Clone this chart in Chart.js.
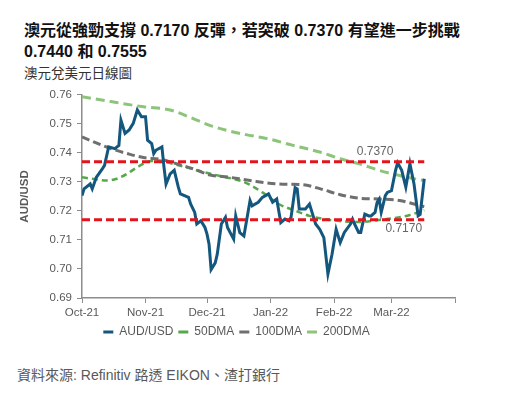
<!DOCTYPE html>
<html lang="zh-Hant-TW">
<head>
<meta charset="utf-8">
<script src="https://cdn.jsdelivr.net/npm/chart.js@4.4.1/dist/chart.umd.min.js"></script>
<style>
  body { margin: 0; width: 517px; height: 398px; background: #fff; position: relative; overflow: hidden; }
  .title { position: absolute; left: 24px; top: 20px; font: bold 16px/21px "Liberation Sans", "Noto Sans CJK TC", sans-serif; color: #111; white-space: nowrap; }
  .subtitle { position: absolute; left: 24px; top: 66px; font: 13.5px/16px "Liberation Sans", "Noto Sans CJK TC", sans-serif; color: #333; }
  .source { position: absolute; left: 17px; top: 367px; font: 14px/16px "Liberation Sans", "Noto Sans CJK TC", sans-serif; color: #595959; }
  #chartBox { position: absolute; left: 0; top: 83px; }
</style>
</head>
<body>
<div class="title">澳元從強勁支撐 0.7170 反彈，若突破 0.7370 有望進一步挑戰<br>0.7440 和 0.7555</div>
<div class="subtitle">澳元兌美元日線圖</div>
<div id="chartBox"><canvas id="audChart" width="517" height="265"></canvas></div>
<div class="source">資料來源: Refinitiv 路透 EIKON、渣打銀行</div>
<script>
// AUD/USD spot
const audDates = ['2021-10-01','2021-10-02','2021-10-05','2021-10-06','2021-10-08','2021-10-11','2021-10-12','2021-10-14','2021-10-17','2021-10-19',
  '2021-10-20','2021-10-22','2021-10-24','2021-10-26','2021-10-28','2021-10-30','2021-11-01','2021-11-02','2021-11-04','2021-11-05',
  '2021-11-06','2021-11-09','2021-11-10','2021-11-11','2021-11-13','2021-11-15','2021-11-17','2021-11-18','2021-11-22','2021-11-23',
  '2021-11-25','2021-11-26','2021-11-28','2021-11-30','2021-12-01','2021-12-02','2021-12-03','2021-12-05','2021-12-06','2021-12-08',
  '2021-12-10','2021-12-11','2021-12-14','2021-12-15','2021-12-17','2021-12-19','2021-12-22','2021-12-23','2021-12-26','2021-12-28',
  '2021-12-31','2022-01-02','2022-01-04','2022-01-06','2022-01-08','2022-01-10','2022-01-11','2022-01-13','2022-01-14','2022-01-15',
  '2022-01-18','2022-01-20','2022-01-22','2022-01-23','2022-01-25','2022-01-27','2022-01-29','2022-01-31','2022-02-02','2022-02-04',
  '2022-02-06','2022-02-09','2022-02-10','2022-02-11','2022-02-13','2022-02-14','2022-02-16','2022-02-18','2022-02-19','2022-02-21',
  '2022-02-22','2022-02-23','2022-02-24','2022-02-26','2022-02-27','2022-03-01','2022-03-03','2022-03-04','2022-03-06','2022-03-08',
  '2022-03-10','2022-03-12','2022-03-14','2022-03-15','2022-03-17'];
const audValues = [0.7253,0.7276,0.7293,0.7276,0.7316,0.7346,0.7357,0.7421,0.7415,0.7426,
  0.7513,0.7467,0.7479,0.7502,0.7548,0.7525,0.7525,0.7444,0.7432,0.7398,
  0.7409,0.7421,0.7351,0.7293,0.7328,0.7340,0.7282,0.7259,0.7247,0.7224,
  0.7195,0.7155,0.7166,0.7143,0.7120,0.7085,0.6998,0.7021,0.7051,0.7155,
  0.7178,0.7143,0.7103,0.7183,0.7125,0.7114,0.7236,0.7218,0.7230,0.7247,
  0.7259,0.7230,0.7241,0.7160,0.7172,0.7166,0.7178,0.7280,0.7276,0.7207,
  0.7207,0.7224,0.7178,0.7155,0.7137,0.7108,0.6983,0.7051,0.7137,0.7091,
  0.7126,0.7155,0.7172,0.7155,0.7126,0.7126,0.7189,0.7183,0.7183,0.7195,
  0.7230,0.7241,0.7195,0.7253,0.7264,0.7270,0.7340,0.7366,0.7340,0.7282,
  0.7363,0.7293,0.7183,0.7188,0.7311];

const ma50Dates = ['2021-10-01','2021-10-06','2021-10-13','2021-10-18','2021-10-23','2021-10-28','2021-11-02','2021-11-08','2021-11-13',
  '2021-11-20','2021-11-30','2021-12-10','2021-12-17','2021-12-22','2021-12-28','2022-01-05','2022-01-13','2022-01-20','2022-01-29',
  '2022-02-06','2022-02-14','2022-02-22','2022-03-02','2022-03-10','2022-03-17'];
const ma50Values = [0.7316,0.7311,0.7305,0.7311,0.7328,0.7351,0.7369,0.7374,0.7365,
  0.7352,0.7333,0.7316,0.7305,0.7290,0.7264,0.7224,0.7201,0.7183,0.7170,
  0.7164,0.7162,0.7168,0.7175,0.7186,0.7203];

const ma100Dates = ['2021-10-01','2021-10-15','2021-10-23','2021-10-31','2021-11-08','2021-11-16','2021-11-24','2021-12-02','2021-12-12',
  '2021-12-22','2022-01-05','2022-01-17','2022-01-25','2022-02-04','2022-02-13','2022-02-23','2022-03-05','2022-03-15','2022-03-17'];
const ma100Values = [0.7455,0.7415,0.7398,0.7384,0.7378,0.7363,0.7346,0.7325,0.7316,
  0.7305,0.7293,0.7290,0.7277,0.7256,0.7244,0.7241,0.7236,0.7218,0.7215];

const ma200Dates = ['2021-10-01','2021-10-15','2021-10-31','2021-11-13','2021-11-24','2021-12-02','2021-12-10','2021-12-20','2021-12-30',
  '2022-01-12','2022-01-25','2022-02-04','2022-02-13','2022-02-23','2022-03-05','2022-03-15','2022-03-17'];
const ma200Values = [0.7594,0.7577,0.7559,0.7548,0.7519,0.7496,0.7479,0.7463,0.7450,
  0.7426,0.7403,0.7380,0.7363,0.7340,0.7322,0.7307,0.7305];

const resistanceLevel = 0.7370;
const supportLevel = 0.7170;

const monthTickDates = ['2021-10-01','2021-11-01','2021-12-01','2022-01-01','2022-02-01','2022-03-01','2022-04-01'];
const monthTickLabels = ['Oct-21','Nov-21','Dec-21','Jan-22','Feb-22','Mar-22',''];

const startDate = Date.parse('2021-10-01');
function dayIndex(s) {
    return Math.round((Date.parse(s) - startDate) / 86400000);
}
function toPoints(dates, values) {
    return dates.map((d, i) => ({ x: dayIndex(d), y: values[i] }));
}

const firstDay = dayIndex(audDates[0]);
const lastDay = dayIndex(audDates[audDates.length - 1]);
const tickDays = monthTickDates.map(dayIndex);

const textColor = '#595959';
const axisColor = '#8c8c8c';
const chartFont = '"Liberation Sans", Arial, sans-serif';

// little labels next to the red levels
const levelLabels = {
    id: 'levelLabels',
    afterDatasetsDraw(chart) {
        const ctx = chart.ctx;
        const x = chart.scales.x;
        const y = chart.scales.y;
        ctx.save();
        ctx.font = '12px ' + chartFont;
        ctx.fillStyle = '#666';
        ctx.textAlign = 'center';
        ctx.textBaseline = 'middle';
        ctx.fillText('0.7370', x.getPixelForValue(dayIndex('2022-02-21')), y.getPixelForValue(resistanceLevel) - 10);
        ctx.fillText('0.7170', x.getPixelForValue(dayIndex('2022-03-07')), y.getPixelForValue(supportLevel) + 9);
        ctx.restore();
    }
};

const ctx = document.getElementById('audChart').getContext('2d');
const audChart = new Chart(ctx, {
    type: 'line',
    data: {
        datasets: [
            {
                label: 'resistance',
                data: [{ x: firstDay, y: resistanceLevel }, { x: lastDay, y: resistanceLevel }],
                borderColor: '#e3151c',
                borderWidth: 3,
                borderDash: [8, 4],
                order: 0
            },
            {
                label: 'support',
                data: [{ x: firstDay, y: supportLevel }, { x: lastDay, y: supportLevel }],
                borderColor: '#e3151c',
                borderWidth: 3,
                borderDash: [8, 4],
                order: 0
            },
            {
                label: 'AUD/USD',
                data: toPoints(audDates, audValues),
                borderColor: '#13577f',
                backgroundColor: '#13577f',
                borderWidth: 3,
                order: 1
            },
            {
                label: '50DMA',
                data: toPoints(ma50Dates, ma50Values),
                borderColor: '#56a84c',
                backgroundColor: '#56a84c',
                borderWidth: 2.5,
                borderDash: [6, 4],
                cubicInterpolationMode: 'monotone',
                order: 3
            },
            {
                label: '100DMA',
                data: toPoints(ma100Dates, ma100Values),
                borderColor: '#6f6f6f',
                backgroundColor: '#6f6f6f',
                borderWidth: 3,
                borderDash: [8, 4],
                cubicInterpolationMode: 'monotone',
                order: 2
            },
            {
                label: '200DMA',
                data: toPoints(ma200Dates, ma200Values),
                borderColor: '#8cc47a',
                backgroundColor: '#8cc47a',
                borderWidth: 3,
                borderDash: [9, 5],
                cubicInterpolationMode: 'monotone',
                order: 4
            }
        ]
    },
    options: {
        responsive: false,
        animation: false,
        devicePixelRatio: 1,
        layout: { padding: { left: 18, right: 62, top: 6, bottom: 0 } },
        elements: { point: { radius: 0 }, line: { tension: 0 } },
        plugins: {
            tooltip: { enabled: false },
            legend: {
                position: 'bottom',
                labels: {
                    color: textColor,
                    font: { family: chartFont, size: 12 },
                    boxWidth: 10,
                    boxHeight: 3,
                    padding: 5,
                    filter: item => item.text !== 'resistance' && item.text !== 'support',
                    sort: (a, b) => a.datasetIndex - b.datasetIndex,
                    generateLabels: chart => {
                        const items = Chart.defaults.plugins.legend.labels.generateLabels(chart);
                        items.forEach(item => {
                            item.lineDash = [];
                            item.lineWidth = 0;
                            item.fillStyle = item.strokeStyle;
                        });
                        return items;
                    }
                }
            }
        },
        scales: {
            x: {
                type: 'linear',
                min: tickDays[0],
                max: tickDays[tickDays.length - 1],
                afterBuildTicks: scale => { scale.ticks = tickDays.map(v => ({ value: v })); },
                afterFit: scale => { scale.height = 23; },
                ticks: {
                    autoSkip: false,
                    maxRotation: 0,
                    padding: 3,
                    color: textColor,
                    font: { family: chartFont, size: 11.5 },
                    callback: value => monthTickLabels[tickDays.indexOf(value)]
                },
                grid: { drawOnChartArea: false, drawTicks: true, tickLength: 5, color: axisColor },
                border: { color: axisColor, width: 1.5 }
            },
            y: {
                min: 0.69,
                max: 0.76,
                afterFit: scale => { scale.width = 64; },
                ticks: {
                    stepSize: 0.01,
                    padding: 5,
                    color: textColor,
                    font: { family: chartFont, size: 11.5 },
                    callback: value => value.toFixed(2)
                },
                grid: { drawOnChartArea: false, drawTicks: true, tickLength: 5, color: axisColor },
                border: { color: axisColor, width: 1.5 },
                title: {
                    display: true,
                    text: 'AUD/USD',
                    color: textColor,
                    padding: { top: 0, bottom: 0 },
                    font: { family: chartFont, size: 11.5, weight: 'bold' }
                }
            }
        }
    },
    plugins: [levelLabels]
});
</script>
</body>
</html>
